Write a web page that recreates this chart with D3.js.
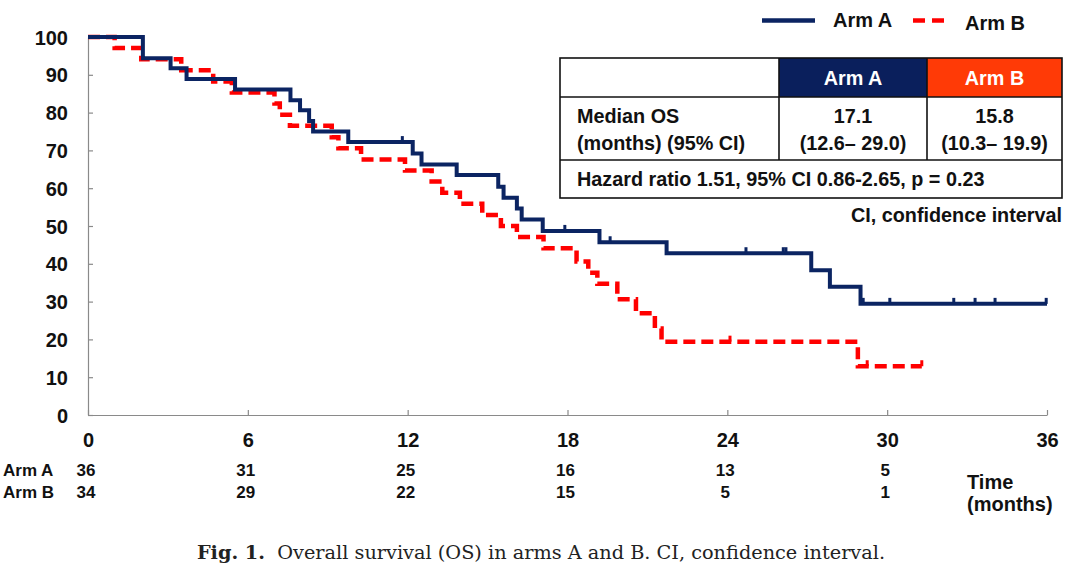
<!DOCTYPE html>
<html>
<head>
<meta charset="utf-8">
<script src="https://cdn.jsdelivr.net/npm/d3@7"></script>
<style>
  body { margin: 0; background: #fff; }
  svg { display: block; }
  text { font-family: "Liberation Sans", Arial, sans-serif; font-weight: bold; fill: #111; }
</style>
</head>
<body>
<svg id="vis" width="1080" height="568"></svg>
<script>
// Arm A (navy, solid) KM steps: time of drop (months) and survival after it (%)
const armA_times = [0, 2.06, 3.1, 3.7, 5.52, 7.6, 7.96, 8.3, 8.45, 9.77, 12.19, 12.52, 13.84, 15.4, 15.6, 16.1, 16.28, 17.07, 19.2, 21.72, 27.15, 27.85, 29.0];
const armA_surv  = [100, 94.4, 91.7, 88.9, 86.1, 83.3, 80.6, 77.8, 75.0, 72.2, 69.2, 66.3, 63.5, 60.4, 57.5, 54.6, 51.7, 48.7, 45.7, 42.8, 38.3, 33.9, 29.4];
const armA_censor = [11.8, 17.9, 19.6, 24.7, 26.1, 26.2, 29.1, 30.1, 32.5, 33.3, 34.05, 35.97];
const armA_last = 36;

// Arm B (red, dashed)
const armB_times = [0, 1.0, 2.0, 3.5, 4.7, 5.4, 7.0, 7.2, 7.58, 9.15, 9.4, 10.25, 11.9, 12.9, 13.3, 13.96, 14.8, 15.5, 16.1, 17.1, 18.34, 18.78, 19.12, 19.87, 20.57, 21.28, 21.53, 28.9];
const armB_surv  = [100, 97.1, 94.1, 91.2, 88.2, 85.3, 82.4, 79.4, 76.5, 73.5, 70.6, 67.6, 64.7, 61.8, 58.8, 55.9, 52.9, 50.0, 47.1, 44.1, 40.6, 37.6, 34.7, 30.6, 26.9, 22.9, 19.4, 12.9];
const armB_censor = [24.1, 29.25, 31.3];
const armB_last = 31.3;

const x_ticks = [0, 6, 12, 18, 24, 30, 36];
const y_ticks = [0, 10, 20, 30, 40, 50, 60, 70, 80, 90, 100];

const risk_times = [0, 6, 12, 18, 24, 30];
const riskA = [36, 31, 25, 16, 13, 5];
const riskB = [34, 29, 22, 15, 5, 1];

const table_header = ["Arm A", "Arm B"];
const median_os = ["17.1", "15.8"];
const median_ci = ["(12.6\u2013 29.0)", "(10.3\u2013 19.9)"];
const hazard_text = "Hazard ratio 1.51, 95% CI 0.86-2.65, p = 0.23";

const navy = "#0b2462", red = "#ff0000";

const svg = d3.select("#vis");
const x = d3.scaleLinear().domain([0, 36]).range([88, 1047]);
const y = d3.scaleLinear().domain([0, 100]).range([415, 37]);

// axes
const xAxis = svg.append("g").attr("transform", "translate(0,415)")
    .call(d3.axisBottom(x).tickValues(x_ticks).tickSize(-5).tickPadding(18).tickSizeOuter(0));
const yAxis = svg.append("g").attr("transform", "translate(88,0)")
    .call(d3.axisLeft(y).tickValues(y_ticks).tickSize(-5).tickPadding(20).tickSizeOuter(0));
[xAxis, yAxis].forEach(a => {
    a.selectAll("path, line").attr("stroke", "#8a8a8a").attr("stroke-width", 1.2);
    a.selectAll("text").attr("font-size", 20).attr("fill", "#111")
        .style("font-family", "'Liberation Sans', Arial, sans-serif").style("font-weight", "bold");
});
yAxis.selectAll("text").attr("dy", "0.35em");
xAxis.selectAll("text").attr("dy", "0.71em");

// curves
const make_pts = (times, surv, last) => {
    const pts = times.map((t, i) => [t, surv[i]]);
    pts.push([last, surv[surv.length - 1]]);
    return pts;
};
const line = d3.line().x(d => x(d[0])).y(d => y(d[1])).curve(d3.curveStepAfter);
const surv_at = (times, surv, t) => surv[d3.bisectRight(times, t) - 1];

svg.append("path").datum(make_pts(armB_times, armB_surv, armB_last))
    .attr("d", line).attr("fill", "none").attr("stroke", red)
    .attr("stroke-width", 4.5).attr("stroke-dasharray", "12,6");
svg.selectAll(".cB").data(armB_censor).join("line")
    .attr("x1", d => x(d)).attr("x2", d => x(d))
    .attr("y1", d => y(surv_at(armB_times, armB_surv, d)))
    .attr("y2", d => y(surv_at(armB_times, armB_surv, d)) - 6)
    .attr("stroke", red).attr("stroke-width", 3);

svg.append("path").datum(make_pts(armA_times, armA_surv, armA_last))
    .attr("d", line).attr("fill", "none").attr("stroke", navy)
    .attr("stroke-width", 4);
svg.selectAll(".cA").data(armA_censor).join("line")
    .attr("x1", d => x(d)).attr("x2", d => x(d))
    .attr("y1", d => y(surv_at(armA_times, armA_surv, d)))
    .attr("y2", d => y(surv_at(armA_times, armA_surv, d)) - 6)
    .attr("stroke", navy).attr("stroke-width", 3);

// legend
svg.append("line").attr("x1", 762).attr("x2", 815).attr("y1", 20.5).attr("y2", 20.5)
    .attr("stroke", navy).attr("stroke-width", 4.5);
svg.append("text").attr("x", 833).attr("y", 27).attr("font-size", 20).text("Arm A");
svg.append("line").attr("x1", 913).attr("x2", 944).attr("y1", 20.5).attr("y2", 20.5)
    .attr("stroke", red).attr("stroke-width", 4.5).attr("stroke-dasharray", "12,7");
svg.append("text").attr("x", 965).attr("y", 30).attr("font-size", 20).text("Arm B");

// summary table
const tx = [560, 779, 927, 1062], ty = [58, 97, 160, 198];
const tbl = svg.append("g");
tbl.append("rect").attr("x", tx[1]).attr("y", ty[0]).attr("width", tx[2] - tx[1]).attr("height", ty[1] - ty[0]).attr("fill", "#0a1f5c");
tbl.append("rect").attr("x", tx[2]).attr("y", ty[0]).attr("width", tx[3] - tx[2]).attr("height", ty[1] - ty[0]).attr("fill", "#ff3a06");
tbl.append("rect").attr("x", tx[0]).attr("y", ty[0]).attr("width", tx[3] - tx[0]).attr("height", ty[3] - ty[0])
    .attr("fill", "none").attr("stroke", "#111").attr("stroke-width", 1.6);
[ty[1], ty[2]].forEach(v => tbl.append("line").attr("x1", tx[0]).attr("x2", tx[3]).attr("y1", v).attr("y2", v).attr("stroke", "#111").attr("stroke-width", 1.6));
[tx[1], tx[2]].forEach(v => tbl.append("line").attr("x1", v).attr("x2", v).attr("y1", ty[0]).attr("y2", ty[2]).attr("stroke", "#111").attr("stroke-width", 1.6));
const fs = 19.8;
table_header.forEach((h, i) => {
    const cx = (tx[i + 1] + tx[i + 2]) / 2;
    tbl.append("text").attr("x", cx).attr("y", 85).attr("text-anchor", "middle").attr("font-size", fs).style("fill", "#fff").text(h);
    tbl.append("text").attr("x", cx).attr("y", 123).attr("text-anchor", "middle").attr("font-size", fs).text(median_os[i]);
    tbl.append("text").attr("x", cx).attr("y", 150).attr("text-anchor", "middle").attr("font-size", fs).text(median_ci[i]);
});
tbl.append("text").attr("x", 577).attr("y", 123).attr("font-size", fs).text("Median OS");
tbl.append("text").attr("x", 577).attr("y", 150).attr("font-size", fs).text("(months) (95% CI)");
tbl.append("text").attr("x", 577).attr("y", 186).attr("font-size", fs).text(hazard_text);
svg.append("text").attr("x", 1062).attr("y", 222).attr("text-anchor", "end").attr("font-size", fs).text("CI, confidence interval");

// numbers at risk
svg.append("text").attr("x", 3).attr("y", 476).attr("font-size", 17).text("Arm A");
svg.append("text").attr("x", 3).attr("y", 498).attr("font-size", 17).text("Arm B");
svg.selectAll(".rA").data(risk_times).join("text")
    .attr("x", d => x(d) - 2).attr("y", 476).attr("text-anchor", "middle").attr("font-size", 17)
    .text((d, i) => riskA[i]);
svg.selectAll(".rB").data(risk_times).join("text")
    .attr("x", d => x(d) - 2).attr("y", 498).attr("text-anchor", "middle").attr("font-size", 17)
    .text((d, i) => riskB[i]);
svg.append("text").attr("x", 967).attr("y", 489).attr("font-size", 20).text("Time");
svg.append("text").attr("x", 967).attr("y", 511).attr("font-size", 20).text("(months)");

// caption
const cap = svg.append("text").attr("x", 541).attr("y", 559).attr("text-anchor", "middle")
    .attr("font-size", 19.3).style("font-family", "'DejaVu Serif', 'Liberation Serif', serif")
    .style("font-weight", "normal").style("fill", "#222");
cap.append("tspan").style("font-weight", "bold").text("Fig. 1.");
cap.append("tspan").text("\u00a0 Overall survival (OS) in arms A and B. CI, confidence interval.");
</script>
</body>
</html>
